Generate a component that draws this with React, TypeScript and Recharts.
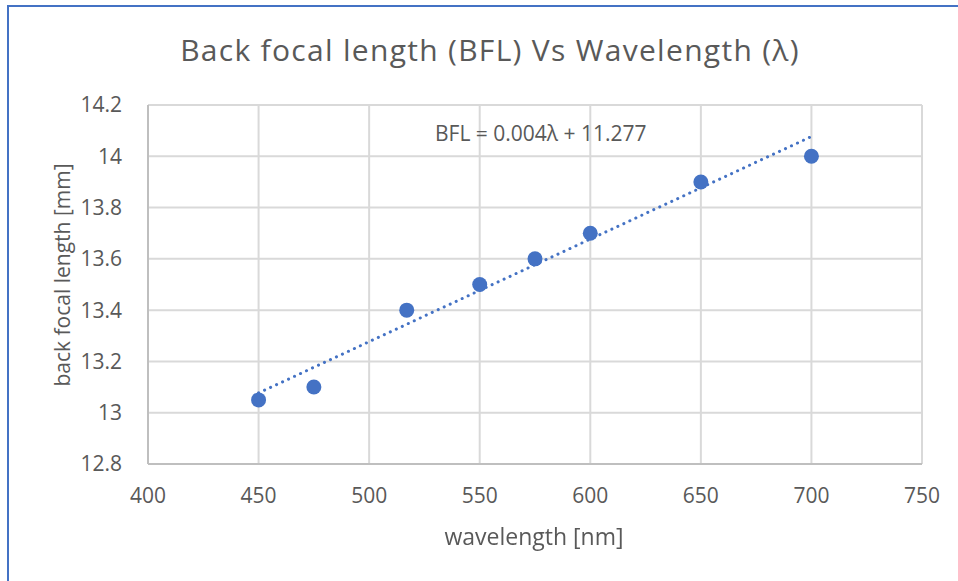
import { ScatterChart, Scatter, XAxis, YAxis, CartesianGrid } from 'recharts'

// measured points (wavelength nm, BFL mm)
const wavelengths = [450, 475, 517, 550, 575, 600, 650, 700]
const bflValues = [13.05, 13.1, 13.4, 13.5, 13.6, 13.7, 13.9, 14.0]

// linear trendline end points as drawn in the original
const trendX = [450, 700]
const trendY = [13.077, 14.077]

const xTicks = [400, 450, 500, 550, 600, 650, 700, 750]
const yTicks = [12.8, 13, 13.2, 13.4, 13.6, 13.8, 14, 14.2]

const points = wavelengths.map((x, i) => ({ x, y: bflValues[i] }))
const trend = trendX.map((x, i) => ({ x, y: trendY[i] }))

const BLUE = '#4472C4'
const TEXT = '#595959'
const FONT = '"Open Sans", sans-serif'

export default function App() {
  return (
    <div style={{ position: 'fixed', left: 0, top: 0, width: 958, height: 581, background: '#fff', fontFamily: FONT }}>
      {/* selection frame, top + left edges only */}
      <div style={{ position: 'absolute', left: 7, top: 5, width: 951, height: 2, background: BLUE }} />
      <div style={{ position: 'absolute', left: 7, top: 5, width: 2, height: 576, background: BLUE }} />

      <div
        style={{
          position: 'absolute',
          left: 0,
          top: 29,
          width: 980,
          textAlign: 'center',
          fontSize: 30,
          letterSpacing: 1.3,
          color: TEXT,
        }}
      >
        Back focal length (BFL) Vs Wavelength (λ)
      </div>

      <ScatterChart
        width={958}
        height={581}
        margin={{ top: 105, right: 36, bottom: 0, left: 0 }}
        style={{ position: 'absolute', left: 0, top: 0 }}
      >
        <CartesianGrid stroke="#d9d9d9" strokeWidth={2} />
        <XAxis
          type="number"
          dataKey="x"
          domain={[400, 750]}
          ticks={xTicks}
          height={117}
          tickLine={false}
          tickMargin={18}
          axisLine={{ stroke: '#bfbfbf', strokeWidth: 2 }}
          tick={{ fill: TEXT, fontSize: 21, fontFamily: FONT }}
        />
        <YAxis
          type="number"
          dataKey="y"
          domain={[12.8, 14.2]}
          ticks={yTicks}
          width={148}
          tickLine={false}
          tickMargin={20}
          axisLine={{ stroke: '#bfbfbf', strokeWidth: 2 }}
          tick={{ fill: TEXT, fontSize: 21, fontFamily: FONT }}
          tickFormatter={(v: number) => String(Number(v.toFixed(1)))}
        />
        <Scatter
          data={trend}
          isAnimationActive={false}
          line={{ stroke: BLUE, strokeWidth: 3, strokeDasharray: '0.1 6.5', strokeLinecap: 'round' }}
          shape={() => <g />}
        />
        <Scatter
          data={points}
          isAnimationActive={false}
          shape={(p: any) => <circle cx={p.cx} cy={p.cy} r={7.5} fill={BLUE} />}
        />
      </ScatterChart>

      <div style={{ position: 'absolute', left: 435, top: 119, fontSize: 21, color: TEXT, whiteSpace: 'nowrap' }}>
        BFL = 0.004λ + 11.277
      </div>

      <div style={{ position: 'absolute', left: 0, top: 520, width: 1068, textAlign: 'center', fontSize: 23, color: TEXT }}>
        wavelength [nm]
      </div>

      <div
        style={{
          position: 'absolute',
          left: 62,
          top: 275,
          transform: 'translate(-50%, -50%) rotate(-90deg)',
          fontSize: 21,
          color: TEXT,
          whiteSpace: 'nowrap',
        }}
      >
        back focal length [mm]
      </div>
    </div>
  )
}
